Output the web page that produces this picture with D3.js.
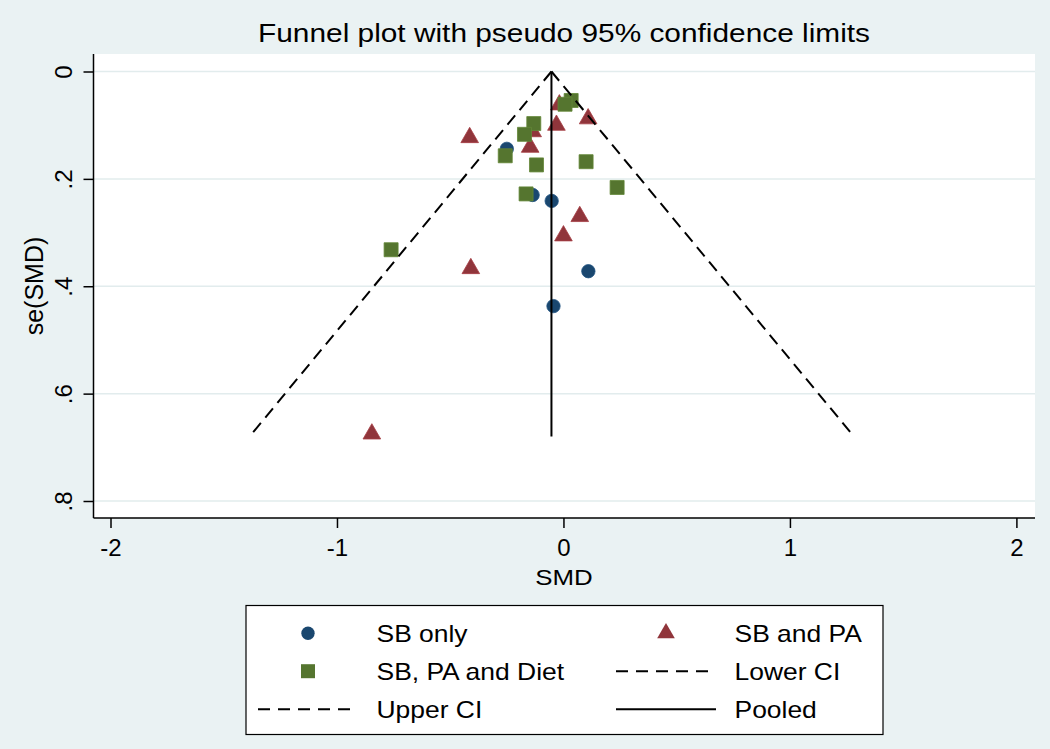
<!DOCTYPE html>
<html>
<head>
<meta charset="utf-8">
<script src="https://cdn.jsdelivr.net/npm/d3@7"></script>
<style>
  body { margin: 0; background: #eaf2f3; }
  svg { display: block; font-family: "Liberation Sans", Arial, Helvetica, sans-serif; }
</style>
</head>
<body>
<svg id="chart" width="1050" height="749"></svg>
<script>
// values
var sbOnlySMD = [-0.250, -0.136, -0.052, 0.110, -0.044];
var sbOnlySE  = [0.144, 0.230, 0.241, 0.372, 0.437];

var sbPaSMD = [-0.414, -0.147, -0.136, -0.031, 0.109, -0.018, 0.072, 0.000, -0.409, -0.846];
var sbPaSE  = [0.123, 0.141, 0.112, 0.100, 0.088, 0.062, 0.270, 0.306, 0.367, 0.675];

var sbPaDietSMD = [0.034, 0.007, -0.131, -0.172, -0.257, -0.119, 0.100, 0.237, -0.165, -0.761];
var sbPaDietSE  = [0.054, 0.061, 0.097, 0.117, 0.157, 0.174, 0.168, 0.216, 0.228, 0.332];

var pooledLine = [[-0.053, 0], [-0.053, 0.68]];
var lowerCI = [[-0.053, 0], [-1.386, 0.68]];
var upperCI = [[-0.053, 0], [1.283, 0.68]];

var xTicks = [-2, -1, 0, 1, 2];
var yTicks = [0, 0.2, 0.4, 0.6, 0.8];

var legendItems = [
  {label: "SB only", kind: "circle"},
  {label: "SB and PA", kind: "triangle"},
  {label: "SB, PA and Diet", kind: "square"},
  {label: "Lower CI", kind: "dash"},
  {label: "Upper CI", kind: "dash"},
  {label: "Pooled", kind: "solid"}
];

var navy = "#1a476f", maroon = "#90353b", green = "#55752f";
var stretch = 1.15;   // the original text is a bit wider than Liberation Sans

var svg = d3.select("#chart");
svg.append("rect").attr("width", 1050).attr("height", 749).attr("fill", "#eaf2f3");

var plot = {left: 93.5, right: 1035, top: 54, bottom: 518};

var x = d3.scaleLinear().domain([-2, 2]).range([110.5, 1016.4]);
var y = d3.scaleLinear().domain([0, 0.8]).range([71.5, 501]);

svg.append("rect")
  .attr("x", plot.left).attr("y", plot.top)
  .attr("width", plot.right - plot.left).attr("height", plot.bottom - plot.top)
  .attr("fill", "#fff");

// horizontal grid
svg.append("g").selectAll("line")
  .data(yTicks)
  .enter().append("line")
  .attr("x1", plot.left).attr("x2", plot.right)
  .attr("y1", function(d) { return y(d); })
  .attr("y2", function(d) { return y(d); })
  .attr("stroke", "#e2eced")
  .attr("stroke-width", 1.5);

function wideText(parent, px, py, str, size, anchor, sx) {
  var g = parent.append("g")
    .attr("transform", "translate(" + px + "," + py + ") scale(" + (sx || stretch) + ",1)");
  return g.append("text")
    .attr("text-anchor", anchor || "start")
    .attr("font-size", size)
    .attr("fill", "#000")
    .text(str);
}

// axes
var xAxis = d3.axisBottom(x).tickValues(xTicks).tickSize(10).tickSizeOuter(0)
  .tickFormat(function(d) { return String(d); });
var gx = svg.append("g").attr("transform", "translate(0," + plot.bottom + ")").call(xAxis);
gx.select(".domain").remove();
gx.selectAll(".tick line").attr("stroke", "#000").attr("stroke-width", 1.5);
gx.selectAll(".tick text")
  .attr("y", 38).attr("dy", 0)
  .attr("font-size", 24).attr("font-family", null).attr("fill", "#000");

var yAxis = d3.axisLeft(y).tickValues(yTicks).tickSize(10).tickSizeOuter(0)
  .tickFormat(function(d) { return d === 0 ? "0" : d3.format(".1f")(d).replace(/^0/, ""); });
var gy = svg.append("g").attr("transform", "translate(" + plot.left + ",0)").call(yAxis);
gy.select(".domain").remove();
gy.selectAll(".tick line").attr("stroke", "#000").attr("stroke-width", 1.5);
gy.selectAll(".tick text")
  .attr("transform", "rotate(-90)")
  .attr("x", 0).attr("y", -22).attr("dy", 0)
  .attr("text-anchor", "middle")
  .attr("font-size", 24).attr("font-family", null).attr("fill", "#000");

svg.append("line")
  .attr("x1", plot.left).attr("x2", plot.left)
  .attr("y1", plot.top).attr("y2", plot.bottom)
  .attr("stroke", "#000").attr("stroke-width", 1.5);
svg.append("line")
  .attr("x1", plot.left).attr("x2", plot.right)
  .attr("y1", plot.bottom).attr("y2", plot.bottom)
  .attr("stroke", "#000").attr("stroke-width", 1.5);

// titles
wideText(svg, 564, 42, "Funnel plot with pseudo 95% confidence limits", 25.5, "middle", 1.17);
wideText(svg, 564, 585, "SMD", 22.5, "middle");
svg.append("text")
  .attr("transform", "translate(43," + ((plot.top + plot.bottom) / 2) + ") rotate(-90)")
  .attr("text-anchor", "middle")
  .attr("font-size", 25)
  .text("se(SMD)");

// markers
var circleSym = d3.symbol().type(d3.symbolCircle).size(140);
var triSym = d3.symbol().type(d3.symbolTriangle).size(135);
var squareSym = d3.symbol().type(d3.symbolSquare).size(196);

function drawSeries(smd, se, sym, color) {
  svg.append("g").selectAll("path")
    .data(d3.range(smd.length))
    .enter().append("path")
    .attr("d", sym)
    .attr("transform", function(i) { return "translate(" + x(smd[i]) + "," + y(se[i]) + ")"; })
    .attr("fill", color)
    .attr("stroke", d3.color(color).brighter(0.4))
    .attr("stroke-width", 0.8);
}
drawSeries(sbOnlySMD, sbOnlySE, circleSym, navy);
drawSeries(sbPaSMD, sbPaSE, triSym, maroon);
drawSeries(sbPaDietSMD, sbPaDietSE, squareSym, green);

// funnel lines
var line = d3.line()
  .x(function(d) { return x(d[0]); })
  .y(function(d) { return y(d[1]); });

[lowerCI, upperCI].forEach(function(arr) {
  svg.append("path")
    .datum(arr)
    .attr("d", line)
    .attr("fill", "none")
    .attr("stroke", "#000")
    .attr("stroke-width", 2)
    .attr("stroke-dasharray", "12,7");
});
svg.append("path")
  .datum(pooledLine)
  .attr("d", line)
  .attr("fill", "none")
  .attr("stroke", "#000")
  .attr("stroke-width", 2);

// legend
var legend = svg.append("g");
legend.append("rect")
  .attr("x", 246).attr("y", 605.5)
  .attr("width", 637).attr("height", 129)
  .attr("fill", "#fff")
  .attr("stroke", "#000")
  .attr("stroke-width", 1.2);

var colSym = [308, 666], colText = [376.5, 734.5];
var rowBase = [641.7, 679.7, 717.7];

legendItems.forEach(function(item, i) {
  var col = i % 2, row = Math.floor(i / 2);
  var cy = rowBase[row] - 8.5;
  var cx = colSym[col];
  if (item.kind === "circle" || item.kind === "triangle" || item.kind === "square") {
    var sym = item.kind === "circle" ? circleSym : item.kind === "triangle" ? triSym : squareSym;
    var color = item.kind === "circle" ? navy : item.kind === "triangle" ? maroon : green;
    legend.append("path")
      .attr("d", sym)
      .attr("transform", "translate(" + cx + "," + cy + ")")
      .attr("fill", color);
  } else {
    legend.append("line")
      .attr("x1", cx - 50).attr("x2", cx + 50)
      .attr("y1", cy).attr("y2", cy)
      .attr("stroke", "#000")
      .attr("stroke-width", 2)
      .attr("stroke-dasharray", item.kind === "dash" ? "12,8" : null);
  }
  wideText(legend, colText[col], rowBase[row], item.label, 23);
});
</script>
</body>
</html>
